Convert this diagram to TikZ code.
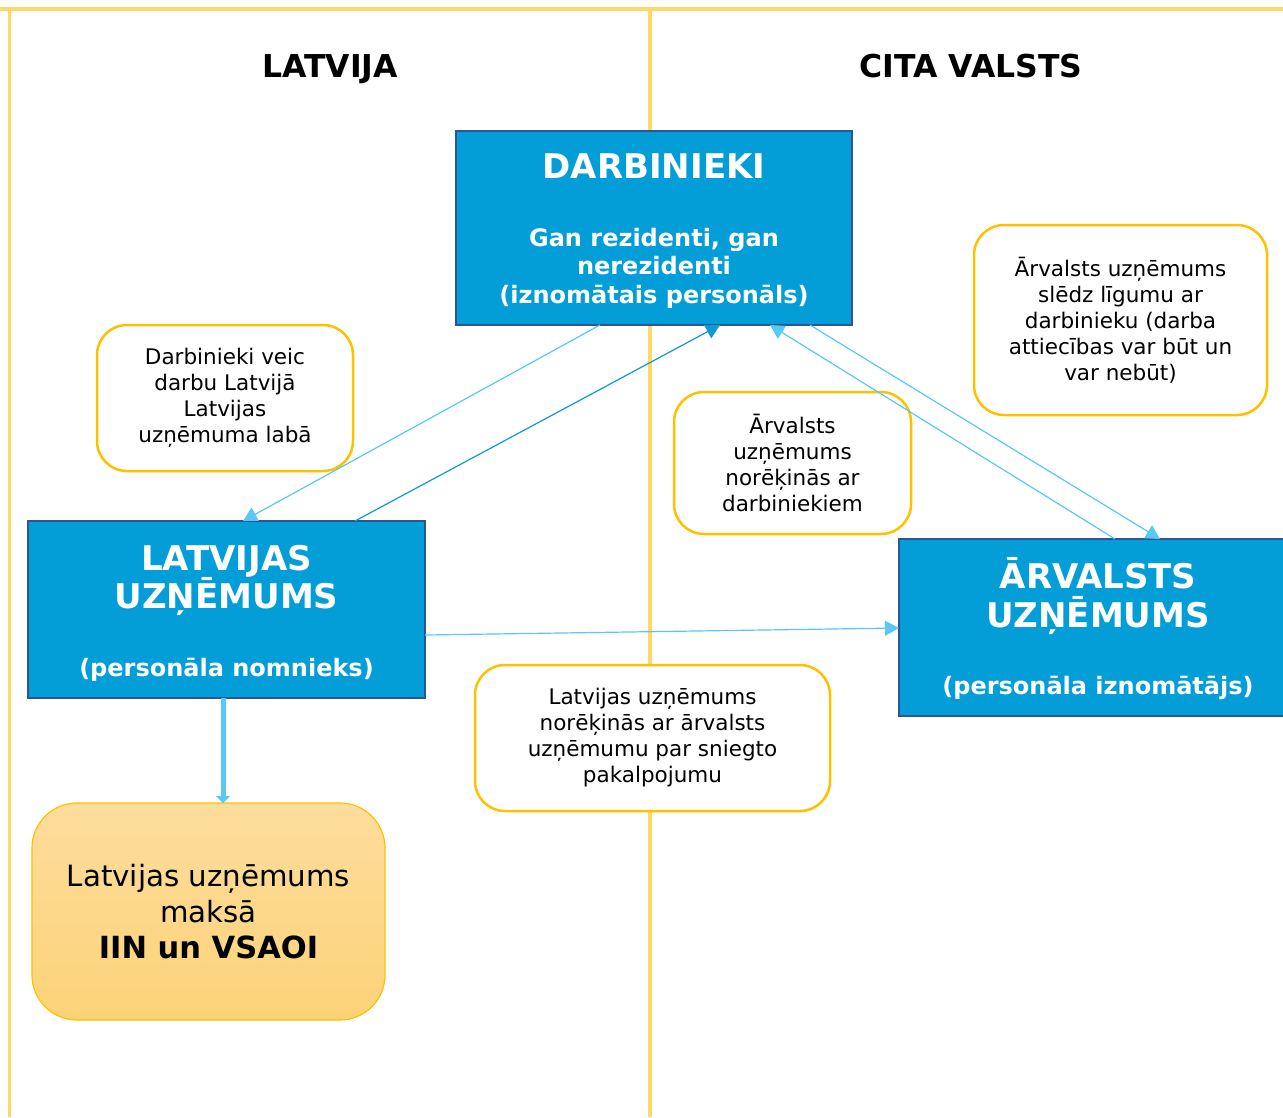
\documentclass[tikz,border=0pt]{standalone}
\usepackage{fontspec}
\setmainfont{DejaVu Sans}
\usetikzlibrary{arrows.meta}
\definecolor{frameY}{RGB}{255,217,102}
\definecolor{boxblue}{RGB}{3,158,216}
\definecolor{boxborder}{RGB}{47,84,150}
\definecolor{calloutY}{RGB}{255,192,0}
\definecolor{arrowL}{RGB}{88,200,245}
\definecolor{arrowD}{RGB}{16,152,213}
\definecolor{orTop}{RGB}{253,221,157}
\definecolor{orBot}{RGB}{253,211,120}
\begin{document}
\begin{tikzpicture}[x=1pt,y=-1pt,
  bluebox/.style={draw=boxborder,line width=2.5pt,fill=boxblue,inner sep=0pt,outer sep=0pt},
  hd/.style={text=white,font=\fontsize{34}{40}\selectfont\bfseries,anchor=base,inner sep=0pt},
  sub/.style={text=white,font=\fontsize{24}{29}\selectfont\bfseries,anchor=base,inner sep=0pt},
  coltitle/.style={font=\fontsize{31.5}{36}\selectfont\bfseries,anchor=base,inner sep=0pt},
  callout/.style={draw=calloutY,line width=2.5pt,fill=white,rounded corners=30pt,align=center,
    font=\fontsize{21.5}{26}\selectfont,inner sep=0pt,outer sep=0pt},
  paybox/.style={draw=calloutY,line width=1.2pt,top color=orTop,bottom color=orBot,rounded corners=45pt,
    align=center,font=\fontsize{29.3}{36}\selectfont,inner sep=0pt,outer sep=0pt},
  conn/.style={draw=arrowL,line width=1.2pt,-{Triangle[length=14pt,width=15pt]}},
  conndark/.style={draw=arrowD,line width=1.2pt,-{Triangle[length=14pt,width=15pt]}},
  thickconn/.style={draw=arrowL,line width=5pt,-{Triangle[length=7pt,width=14pt]}},
  divider/.style={draw=frameY,line width=3.5pt}
]
\clip (0,0) rectangle (1283,1117);
\useasboundingbox (0,0) rectangle (1283,1117);

% frame / column dividers
\draw[divider,line width=4pt] (0,8.7) -- (1283,8.7);
\draw[divider] (9.5,7) -- (9.5,1117);
\draw[divider] (650,7) -- (650,1117);

% column titles
\node[coltitle] (tLV) at (330,77) {LATVIJA};
\node[coltitle] (tCV) at (971,77) {CITA VALSTS};

% blue boxes
\node[bluebox,minimum width=396pt,minimum height=194pt] (darb) at (654,228) {};
\node[hd] (darbT) at (654,178) {DARBINIEKI};
\node[sub] (darbS1) at (654,246) {Gan rezidenti, gan};
\node[sub] (darbS2) at (654,274.5) {nerezidenti};
\node[sub] (darbS3) at (654,303) {(iznomātais personāls)};

\node[bluebox,minimum width=397pt,minimum height=177pt] (lat) at (226.5,609.5) {};
\node[hd] (latT1) at (226.5,570) {LATVIJAS};
\node[hd] (latT2) at (226.5,608) {UZŅĒMUMS};
\node[sub] (latS) at (226.5,676) {(personāla nomnieks)};

\node[bluebox,minimum width=398pt,minimum height=177pt] (arv) at (1098,627.5) {};
\node[hd] (arvT1) at (1098,588) {ĀRVALSTS};
\node[hd] (arvT2) at (1098,627) {UZŅĒMUMS};
\node[sub] (arvS) at (1098,694) {(personāla iznomātājs)};

% callouts
\node[callout,minimum width=256pt,minimum height=146pt] (c1) at (225,398)
  {Darbinieki veic\\darbu Latvijā\\Latvijas\\uzņēmuma labā};
\node[callout,minimum width=237pt,minimum height=142pt] (c2) at (792.5,463)
  {Ārvalsts\\uzņēmums\\norēķinās ar\\darbiniekiem};
\node[callout,minimum width=293pt,minimum height=190pt] (c3) at (1120.5,320)
  {Ārvalsts uzņēmums\\slēdz līgumu ar\\darbinieku (darba\\attiecības var būt un\\var nebūt)};
\node[callout,minimum width=355pt,minimum height=146pt] (c4) at (652.5,738)
  {Latvijas uzņēmums\\norēķinās ar ārvalsts\\uzņēmumu par sniegto\\pakalpojumu};

\node[paybox,minimum width=353pt,minimum height=217pt] (pay) at (208.5,911.5)
  {Latvijas uzņēmums\\maksā\\\fontsize{30.5}{36}\selectfont\textbf{IIN un VSAOI}};

% connectors
\draw[conn] ([xshift=144pt]darb.south west) -- ([xshift=215pt]lat.north west);
\draw[conndark] ([xshift=327pt]lat.north west) -- ([xshift=264pt]darb.south west);
\draw[conn] ([xshift=216pt]arv.north west) -- ([xshift=314pt]darb.south west);
\draw[conn] ([xshift=354pt]darb.south west) -- ([xshift=261pt]arv.north west);
\draw[conn] ([yshift=-114pt]lat.north east) -- ([yshift=-89pt]arv.north west);
\draw[thickconn] ([xshift=-3.5pt]lat.south) -- ([xshift=14.5pt]pay.north);
\end{tikzpicture}
\end{document}
